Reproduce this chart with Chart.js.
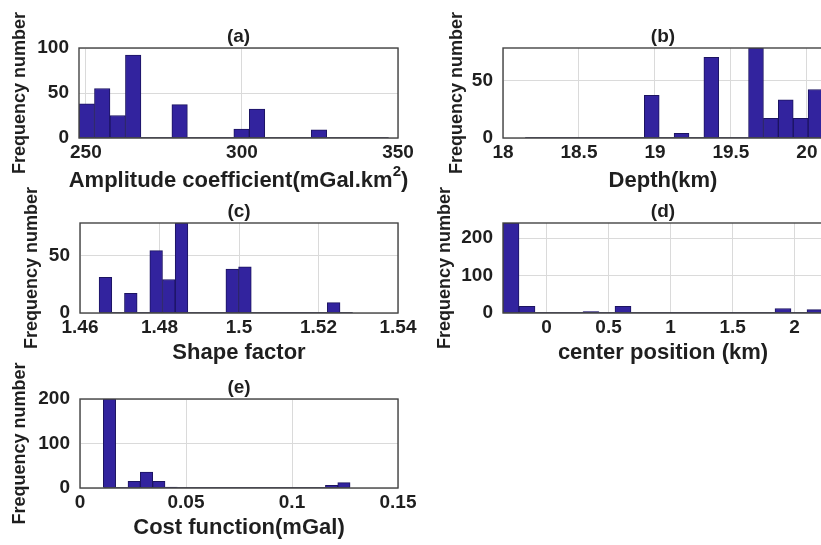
<!DOCTYPE html>
<html>
<head>
<meta charset="utf-8">
<script src="https://cdn.jsdelivr.net/npm/chart.js@4.4.1/dist/chart.umd.min.js"></script>
<style>
  html, body { margin: 0; padding: 0; background: #fff; overflow: hidden; width: 821px; height: 545px; }
  canvas { position: absolute; }
</style>
</head>
<body>
<canvas id="histA"></canvas>
<canvas id="histB"></canvas>
<canvas id="histC"></canvas>
<canvas id="histD"></canvas>
<canvas id="histE"></canvas>
<script>
// ---- (a) amplitude coefficient ----
const amplitudeBins = [250.28, 255.24, 260.20, 265.16, 270.12, 275.08, 280.04, 285.00, 289.96, 294.92,
                       299.88, 304.84, 309.80, 314.76, 319.72, 324.68, 329.64, 334.60, 339.56, 344.52];
const amplitudeCounts = [38, 55, 25, 92, 0, 0, 37, 0, 0, 0, 10, 32, 0, 0, 0, 9, 0, 0, 0, 0];
const amplitudeEdges = [247.8, 347.0];
const amplitudeXRange = [247.8, 350];
const amplitudeYMax = 100;
const amplitudeXTicks = [250, 300, 350];
const amplitudeYTicks = [0, 50, 100];

// ---- (b) depth ----
const depthBins = [18.195, 18.293, 18.391, 18.489, 18.587, 18.685, 18.783, 18.881, 18.979, 19.077,
                   19.175, 19.273, 19.371, 19.469, 19.567, 19.665, 19.763, 19.861, 19.959, 20.057];
const depthCounts = [0, 0, 0, 0, 0, 0, 0, 0, 37, 0, 4, 0, 70, 0, 0, 78, 17, 33, 17, 42];
const depthEdges = [18.146, 20.106];
const depthXRange = [18, 20.106];
const depthYMax = 78;
const depthXTicks = [18, 18.5, 19, 19.5, 20];
const depthYTicks = [0, 50];

// ---- (c) shape factor ----
const shapeBins = [1.46640, 1.46959, 1.47278, 1.47597, 1.47916, 1.48235, 1.48554, 1.48873, 1.49192, 1.49511,
                   1.49830, 1.50149, 1.50468, 1.50787, 1.51106, 1.51425, 1.51744, 1.52063, 1.52382, 1.52701];
const shapeCounts = [31, 0, 17, 0, 54, 29, 78, 0, 0, 0, 38, 40, 0, 0, 0, 0, 0, 0, 9, 0];
const shapeEdges = [1.4648, 1.5286];
const shapeXRange = [1.46, 1.54];
const shapeYMax = 78;
const shapeXTicks = [1.46, 1.48, 1.5, 1.52, 1.54];
const shapeYTicks = [0, 50];

// ---- (d) center position ----
const centerBins = [-0.2865, -0.1575, -0.0285, 0.1005, 0.2295, 0.3585, 0.4875, 0.6165, 0.7455, 0.8745,
                    1.0035, 1.1325, 1.2615, 1.3905, 1.5195, 1.6485, 1.7775, 1.9065, 2.0355, 2.1645];
const centerCounts = [240, 18, 0, 0, 0, 4, 0, 18, 0, 0, 0, 0, 0, 0, 0, 0, 0, 12, 0, 9];
const centerEdges = [-0.351, 2.229];
const centerXRange = [-0.351, 2.229];
const centerYMax = 240;
const centerXTicks = [0, 0.5, 1, 1.5, 2];
const centerYTicks = [0, 100, 200];

// ---- (e) cost function ----
const costBins = [0.01391, 0.01973, 0.02555, 0.03137, 0.03719, 0.04301, 0.04883, 0.05465, 0.06047, 0.06629,
                  0.07211, 0.07793, 0.08375, 0.08957, 0.09539, 0.10121, 0.10703, 0.11285, 0.11867, 0.12449];
const costCounts = [200, 0, 15, 36, 15, 2, 0, 0, 0, 0, 0, 0, 0, 0, 0, 0, 0, 0, 6, 12];
const costEdges = [0.011, 0.1274];
const costXRange = [0, 0.15];
const costYMax = 200;
const costXTicks = [0, 0.05, 0.1, 0.15];
const costYTicks = [0, 100, 200];

const yLabel = 'Frequency number';

const FONT = '"Liberation Sans", Arial, Helvetica, sans-serif';
Chart.defaults.font.family = FONT;
Chart.defaults.font.weight = 'bold';
Chart.defaults.font.size = 19;
Chart.defaults.color = '#1f1f1f';

// box drawn around the plotting area on all four sides
const framePlugin = {
  id: 'frame',
  afterDatasetsDraw(chart) {
    const { ctx, chartArea: a } = chart;
    ctx.save();
    ctx.strokeStyle = '#454545';
    ctx.lineWidth = 1.4;
    ctx.strokeRect(a.left, a.top, a.right - a.left, a.bottom - a.top);
    ctx.restore();
  }
};

// panel letter, x label (with optional superscript part) and rotated y label
const captionPlugin = {
  id: 'captions',
  afterDraw(chart) {
    const o = chart.options.plugins.captions;
    const { ctx, chartArea: a } = chart;
    const cx = (a.left + a.right) / 2;
    ctx.save();
    ctx.fillStyle = '#1f1f1f';
    ctx.textBaseline = 'middle';

    ctx.textAlign = 'center';
    ctx.font = 'bold 19px ' + FONT;
    ctx.fillText(o.title, cx, a.top - o.titleGap);

    // x label: parts are drawn left to right, superscripts smaller and raised
    const main = 'bold 22px ' + FONT, sup = 'bold 15px ' + FONT;
    const parts = o.xLabel;
    let total = 0;
    const widths = parts.map(p => { ctx.font = p.sup ? sup : main; const w = ctx.measureText(p.text).width; total += w; return w; });
    let x = cx - total / 2;
    const y = a.bottom + o.xLabelGap;
    ctx.textAlign = 'left';
    parts.forEach((p, i) => {
      ctx.font = p.sup ? sup : main;
      ctx.fillText(p.text, x, p.sup ? y - 9 : y);
      x += widths[i];
    });

    ctx.textAlign = 'center';
    ctx.translate(o.yLabelX, (a.top + a.bottom) / 2);
    ctx.rotate(-Math.PI / 2);
    ctx.font = 'bold 18px ' + FONT;
    ctx.fillText(o.yLabel, 0, 0);
    ctx.restore();
  }
};

const tickText = v => String(+Number(v).toFixed(4));

function histogram(id, g, d) {
  const canvas = document.getElementById(id);
  const W = g.lw + g.boxW + g.rw;
  const H = g.th + g.boxH + g.bh;
  canvas.width = W;
  canvas.height = H;
  canvas.style.width = W + 'px';
  canvas.style.height = H + 'px';
  canvas.style.left = (g.boxL - g.lw) + 'px';
  canvas.style.top = (g.boxT - g.th) + 'px';

  new Chart(canvas, {
    type: 'bar',
    data: {
      datasets: [
        {
          type: 'line',
          data: [{ x: d.edges[0], y: 0 }, { x: d.edges[1], y: 0 }],
          borderColor: '#1a1a40',
          borderWidth: 1.5,
          pointRadius: 0
        },
        {
          type: 'bar',
          data: d.bins.map((x, i) => ({ x, y: d.counts[i] })),
          backgroundColor: 'rgb(50, 35, 158)',
          borderColor: 'rgb(28, 20, 96)',
          borderWidth: 1,
          barPercentage: 1,
          categoryPercentage: 1
        }
      ]
    },
    options: {
      responsive: false,
      animation: false,
      devicePixelRatio: 1,
      layout: { padding: { left: 0, top: g.th, right: g.rw, bottom: 0 } },
      plugins: {
        legend: { display: false },
        tooltip: { enabled: false },
        captions: { title: d.title, xLabel: d.xLabel, yLabel: yLabel, yLabelX: g.yLabelX,
                    titleGap: 11.5, xLabelGap: g.xLabelGap }
      },
      scales: {
        x: {
          type: 'linear',
          min: d.xRange[0],
          max: d.xRange[1],
          bounds: 'data',
          offset: false,
          afterBuildTicks: s => { s.ticks = d.xTicks.map(v => ({ value: v })); },
          afterFit: s => { s.height = g.bh; },
          ticks: { padding: 3, maxRotation: 0, minRotation: 0, autoSkip: false, callback: tickText },
          grid: { offset: false, drawTicks: false, color: '#dadada', lineWidth: 1 },
          border: { display: false }
        },
        y: {
          type: 'linear',
          min: 0,
          max: d.yMax,
          bounds: 'data',
          afterBuildTicks: s => { s.ticks = d.yTicks.map(v => ({ value: v })); },
          afterFit: s => { s.width = g.lw; },
          ticks: { padding: 10, autoSkip: false, callback: tickText },
          grid: { drawTicks: false, color: '#dadada', lineWidth: 1 },
          border: { display: false }
        }
      }
    },
    plugins: [framePlugin, captionPlugin]
  });
}

histogram('histA',
  { boxL: 79, boxT: 48, boxW: 319, boxH: 90, lw: 79, rw: 30, th: 48, bh: 60, yLabelX: 20, xLabelGap: 43 },
  { bins: amplitudeBins, counts: amplitudeCounts, edges: amplitudeEdges, xRange: amplitudeXRange,
    yMax: amplitudeYMax, xTicks: amplitudeXTicks, yTicks: amplitudeYTicks,
    title: '(a)', xLabel: [{ text: 'Amplitude coefficient(mGal.km' }, { text: '2', sup: true }, { text: ')' }] });

histogram('histB',
  { boxL: 503, boxT: 48, boxW: 320, boxH: 90, lw: 103, rw: 30, th: 48, bh: 60, yLabelX: 57, xLabelGap: 43 },
  { bins: depthBins, counts: depthCounts, edges: depthEdges, xRange: depthXRange,
    yMax: depthYMax, xTicks: depthXTicks, yTicks: depthYTicks,
    title: '(b)', xLabel: [{ text: 'Depth(km)' }] });

histogram('histC',
  { boxL: 80, boxT: 223, boxW: 318, boxH: 90, lw: 80, rw: 30, th: 48, bh: 60, yLabelX: 32, xLabelGap: 40 },
  { bins: shapeBins, counts: shapeCounts, edges: shapeEdges, xRange: shapeXRange,
    yMax: shapeYMax, xTicks: shapeXTicks, yTicks: shapeYTicks,
    title: '(c)', xLabel: [{ text: 'Shape factor' }] });

histogram('histD',
  { boxL: 503, boxT: 223, boxW: 320, boxH: 90, lw: 103, rw: 30, th: 48, bh: 60, yLabelX: 45, xLabelGap: 40 },
  { bins: centerBins, counts: centerCounts, edges: centerEdges, xRange: centerXRange,
    yMax: centerYMax, xTicks: centerXTicks, yTicks: centerYTicks,
    title: '(d)', xLabel: [{ text: 'center position (km)' }] });

histogram('histE',
  { boxL: 80, boxT: 399, boxW: 318, boxH: 89, lw: 80, rw: 30, th: 48, bh: 57, yLabelX: 20, xLabelGap: 40 },
  { bins: costBins, counts: costCounts, edges: costEdges, xRange: costXRange,
    yMax: costYMax, xTicks: costXTicks, yTicks: costYTicks,
    title: '(e)', xLabel: [{ text: 'Cost function(mGal)' }] });
</script>
</body>
</html>
